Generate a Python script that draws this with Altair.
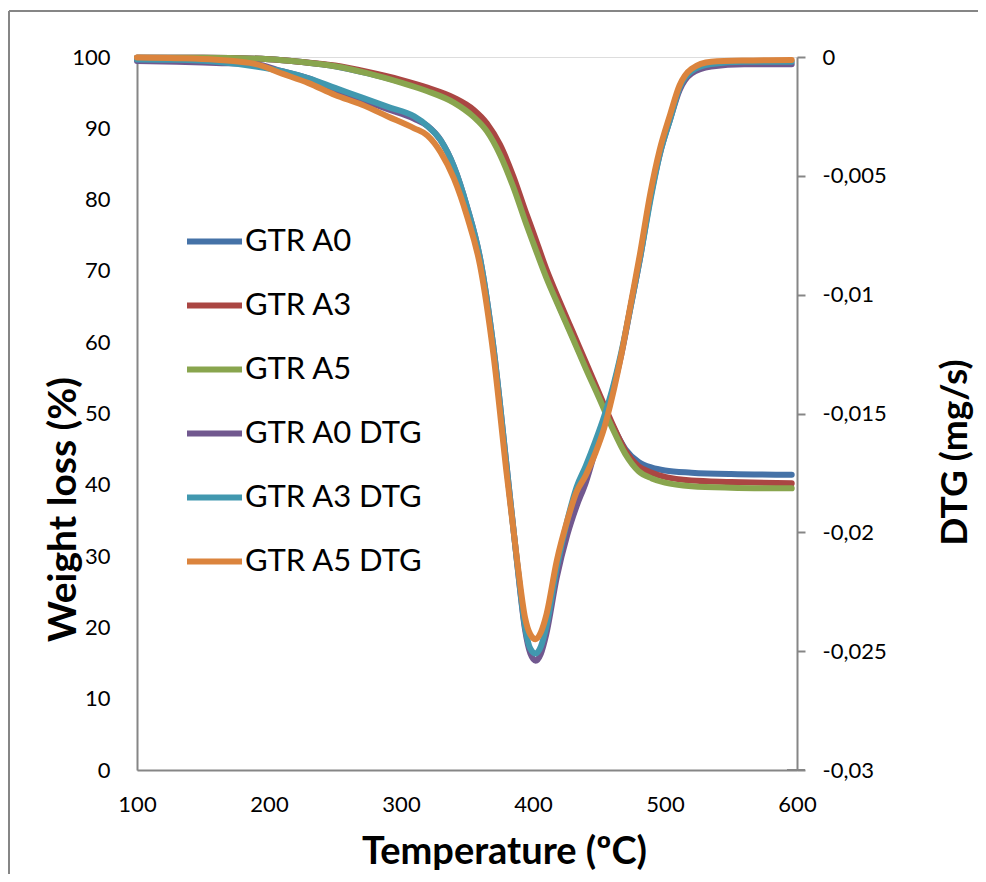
import altair as alt
import pandas as pd

# ---------------- data ----------------
SERIES = ["GTR A0", "GTR A3", "GTR A5", "GTR A0 DTG", "GTR A3 DTG", "GTR A5 DTG"]
COLORS = ["#4572A7", "#AA4643", "#89A54E", "#71588F", "#4198AF", "#DB843D"]

tg_temp = [100, 150, 200, 225, 250, 275, 300, 320, 340, 355, 365, 375, 385, 395, 400,
           410, 420, 430, 440, 450, 460, 470, 480, 490, 500, 520, 550, 596]
tg_a0 = [99.9, 99.9, 99.7, 99.3, 98.7, 97.7, 96.5, 95.4, 93.9, 92.0, 90.0, 86.8, 82.4, 77.0, 74.5,
         69.5, 65.0, 60.8, 56.6, 52.5, 48.4, 45.0, 43.2, 42.4, 42.0, 41.7, 41.5, 41.4]
tg_a3 = [99.9, 99.9, 99.7, 99.3, 98.8, 97.9, 96.8, 95.7, 94.3, 92.6, 90.7, 87.7, 83.3, 78.0, 75.5,
         70.3, 65.8, 61.5, 57.2, 52.9, 48.6, 44.8, 42.6, 41.7, 41.1, 40.6, 40.4, 40.2]
tg_a5 = [99.9, 99.9, 99.7, 99.3, 98.7, 97.7, 96.4, 95.2, 93.6, 91.6, 89.6, 86.3, 81.8, 76.5, 74.0,
         69.1, 64.8, 60.6, 56.3, 52.2, 48.0, 44.3, 41.9, 40.9, 40.3, 39.8, 39.6, 39.5]

dtg_temp = [100, 130, 160, 190, 210, 230, 250, 270, 290, 310, 320, 330, 340, 350, 360, 370, 380,
            388, 394, 398, 402, 406, 410, 418, 426, 433, 440, 447, 454, 460, 467, 474, 481, 489,
            496, 504, 511, 520, 535, 560, 596]
dtg_a0 = [-0.00017, -0.0002, -0.00025, -0.0003, -0.0006, -0.0009, -0.0014, -0.0018, -0.0022,
          -0.0026, -0.0029, -0.0035, -0.0046, -0.0063, -0.0085, -0.0122, -0.0172, -0.0213,
          -0.0241, -0.0251, -0.0254, -0.0251, -0.0243, -0.0219, -0.0201, -0.0189, -0.0179,
          -0.0166, -0.0153, -0.0141, -0.0125, -0.0105, -0.0085, -0.0059, -0.0041, -0.0026,
          -0.0014, -0.0007, -0.0004, -0.0003, -0.0003]
dtg_a3 = [-0.0001, -0.00012, -0.0002, -0.0004, -0.0006, -0.0009, -0.0013, -0.0017, -0.0021,
          -0.0025, -0.0029, -0.0035, -0.0046, -0.0063, -0.0085, -0.0122, -0.0172, -0.0213,
          -0.0240, -0.0249, -0.0251, -0.0248, -0.0240, -0.0215, -0.0195, -0.0181, -0.0172,
          -0.0162, -0.0151, -0.0140, -0.0124, -0.0105, -0.0085, -0.0060, -0.0041, -0.0026,
          -0.0013, -0.0006, -0.0003, -0.0002, -0.0002]
dtg_a5 = [-0.00002, -0.00005, -0.00012, -0.0003, -0.0007, -0.0011, -0.0016, -0.0020, -0.0025,
          -0.0030, -0.0033, -0.0040, -0.0051, -0.0067, -0.0088, -0.0125, -0.0175, -0.0212,
          -0.0236, -0.0243, -0.0245, -0.0242, -0.0235, -0.0212, -0.0195, -0.0183, -0.0176,
          -0.0167, -0.0156, -0.0143, -0.0125, -0.0104, -0.0083, -0.0057, -0.0039, -0.0024,
          -0.0012, -0.0005, -0.0002, -0.00015, -0.00013]

left_ticks = [0, 10, 20, 30, 40, 50, 60, 70, 80, 90, 100]
right_ticks = [0, -0.005, -0.01, -0.015, -0.02, -0.025, -0.03]
x_ticks = [100, 200, 300, 400, 500, 600]

# ---------------- tables ----------------
tg_rows = []
for name, vals in zip(SERIES[:3], [tg_a0, tg_a3, tg_a5]):
    for t, v in zip(tg_temp, vals):
        tg_rows.append({"T": t, "v": v, "series": name})
tg_df = pd.DataFrame(tg_rows)

dtg_rows = []
for name, vals in zip(SERIES[3:], [dtg_a0, dtg_a3, dtg_a5]):
    for t, v in zip(dtg_temp, vals):
        dtg_rows.append({"T": t, "v": v, "series": name})
dtg_df = pd.DataFrame(dtg_rows)

GRAY = "#868686"
FONT = "Lato"

color = alt.Color(
    "series:N",
    scale=alt.Scale(domain=SERIES, range=COLORS),
    sort=SERIES,
    legend=alt.Legend(
        title=None, orient="none", legendX=47, legendY=154,
        symbolType="stroke", symbolSize=3025, symbolStrokeWidth=6,
        labelFontSize=31, labelFont=FONT, labelColor="black", labelOffset=0,
        rowPadding=18, padding=0, labelLimit=400,
    ),
)

x_enc = alt.X(
    "T:Q",
    scale=alt.Scale(domain=[100, 600], nice=False, zero=False),
    axis=alt.Axis(
        values=x_ticks, grid=False, ticks=False, domainColor=GRAY, domainWidth=2,
        labelFontSize=22, labelColor="black", labelPadding=24, labelFont=FONT,
        labelFlush=False, labelOverlap=False,
        title="Temperature (ºC)", titleFontSize=38, titleFontWeight="bold", titleFont=FONT,
        titleX=367, titleY=93, titleBaseline="alphabetic", titleAlign="center", titleColor="black",
    ),
)

tg = alt.Chart(tg_df).mark_line(strokeWidth=6, strokeCap="round", interpolate="monotone").encode(
    x=x_enc,
    y=alt.Y(
        "v:Q",
        scale=alt.Scale(domain=[0, 100], nice=False),
        axis=alt.Axis(
            orient="left", values=left_ticks, grid=False, ticks=False, domainColor=GRAY,
            domainWidth=2, labelFontSize=22, labelColor="black", labelPadding=27, labelFont=FONT,
            labelFlush=False, labelOverlap=False,
            title="Weight loss (%)", titleFontSize=39, titleFontWeight="bold", titleFont=FONT,
            titleAngle=270, titleX=-74, titleY=452, titleBaseline="middle", titleAlign="center",
            titleColor="black",
        ),
    ),
    color=color,
    order=alt.Order("T:Q"),
)

dtg = alt.Chart(dtg_df).mark_line(strokeWidth=6, strokeCap="round", interpolate="monotone").encode(
    x=alt.X("T:Q"),
    y=alt.Y(
        "v:Q",
        scale=alt.Scale(domain=[-0.03, 0], nice=False, zero=False),
        axis=alt.Axis(
            orient="right", values=right_ticks, grid=False, ticks=True, tickSize=8,
            tickColor=GRAY, tickWidth=2, domainColor=GRAY, domainWidth=2,
            labelFontSize=22, labelColor="black", labelPadding=17, labelFont=FONT,
            labelFlush=False, labelOverlap=False,
            labelExpr="replace(toString(datum.value), '.', ',')",
            title="DTG (mg/s)", titleFontSize=37, titleFontWeight="bold", titleFont=FONT,
            titleAngle=270, titleX=158, titleY=395, titleBaseline="middle", titleAlign="center",
            titleColor="black",
        ),
    ),
    color=color,
    order=alt.Order("T:Q"),
)

frame_df = pd.DataFrame({"k": [0]})
border_top = alt.Chart(frame_df).mark_rule(color=GRAY, strokeWidth=2).encode(
    x=alt.value(-128), x2=alt.value(841), y=alt.value(-46)
)
border_left = alt.Chart(frame_df).mark_rule(color=GRAY, strokeWidth=2).encode(
    x=alt.value(-128), y=alt.value(-46), y2=alt.value(817)
)
# bottom axis line continues under the right-axis ticks, as in the original
axis_ext = alt.Chart(frame_df).mark_rule(color=GRAY, strokeWidth=2).encode(
    x=alt.value(650), x2=alt.value(668), y=alt.value(713)
)

chart = alt.layer(border_top, border_left, axis_ext, tg, dtg).resolve_scale(y="independent").properties(
    width=660, height=713,
    autosize=alt.AutoSizeParams(type="none"),
    padding={"left": 129, "top": 49, "right": 181, "bottom": 104},
).configure_view(strokeWidth=0).configure(font=FONT)

chart.save("out.html", embed_options={"renderer": "svg", "actions": False})
